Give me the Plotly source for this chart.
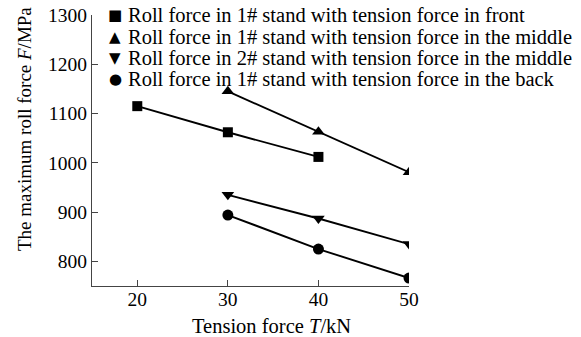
import plotly.graph_objects as go

# Tension force (kN) and maximum roll force (MPa) for each rolling case
tension_front = [20, 30, 40]
force_front = [1115, 1062, 1012]

tension_mid1 = [30, 40, 50]
force_mid1 = [1145, 1063, 981]

tension_mid2 = [30, 40, 50]
force_mid2 = [935, 887, 835]

tension_back = [30, 40, 50]
force_back = [894, 825, 766]

x_ticks = [20, 30, 40, 50]
y_ticks = [800, 900, 1000, 1100, 1200, 1300]

series = [
    ("Roll force in 1# stand with tension force in front", tension_front, force_front, "square", 10, "■"),
    ("Roll force in 1# stand with tension force in the middle", tension_mid1, force_mid1, "triangle-up", 11, "▲"),
    ("Roll force in 2# stand with tension force in the middle", tension_mid2, force_mid2, "triangle-down", 11, "▼"),
    ("Roll force in 1# stand with tension force in the back", tension_back, force_back, "circle", 11, "●"),
]

SERIF = "Liberation Serif, Times New Roman, serif"
GLYPH = "DejaVu Sans, sans-serif"

# plot area in pixels
L, T, W, H = 92, 15, 317, 271

fig = go.Figure()
for name, xs, ys, sym, size, _ in series:
    fig.add_trace(go.Scatter(
        x=xs, y=ys, name=name, mode="lines+markers", showlegend=False,
        line=dict(color="black", width=1.9),
        marker=dict(symbol=sym, size=size, color="black"),
    ))

annotations = []
# key: symbol glyph + description, one row per series
row_y = [15, 37, 58, 79]
for (name, _, _, _, _, glyph), py in zip(series, row_y):
    annotations.append(dict(
        xref="paper", yref="paper", x=0, y=1, xanchor="center", yanchor="middle",
        xshift=115 - L, yshift=T - py, text=glyph, showarrow=False,
        font=dict(family=GLYPH, size=15, color="black"),
    ))
    annotations.append(dict(
        xref="paper", yref="paper", x=0, y=1, xanchor="left", yanchor="middle",
        xshift=126 - L, yshift=T - py, text=name, showarrow=False,
        font=dict(family=SERIF, size=20.5, color="black"),
    ))

# axis titles
annotations.append(dict(
    xref="paper", yref="paper", x=0, y=0, xanchor="center", yanchor="middle",
    xshift=271 - L, yshift=-(326 - (T + H)), text="Tension force <i>T</i>/kN",
    showarrow=False, font=dict(family=SERIF, size=20.5, color="black"),
))
annotations.append(dict(
    xref="paper", yref="paper", x=0, y=1, xanchor="center", yanchor="middle",
    xshift=24 - L, yshift=T - 129, textangle=-90,
    text="The maximum roll force <i>F</i>/MPa",
    showarrow=False, font=dict(family=SERIF, size=19, color="black"),
))

fig.update_layout(
    width=581, height=337,
    margin=dict(l=L, r=581 - L - W, t=T, b=337 - T - H, autoexpand=False),
    paper_bgcolor="white", plot_bgcolor="white",
    font=dict(family=SERIF, size=19.5, color="black"),
    showlegend=False,
    annotations=annotations,
    xaxis=dict(
        range=[15, 50], tickvals=x_ticks, automargin=False,
        showgrid=False, zeroline=False,
        showline=True, linecolor="#444", linewidth=1.3,
        ticks="inside", ticklen=6, tickcolor="#444", tickwidth=1.3,
        ticklabelstandoff=-5,
        tickfont=dict(size=19.5, family=SERIF, color="black"),
    ),
    yaxis=dict(
        range=[750, 1300], tickvals=y_ticks, automargin=False,
        showgrid=False, zeroline=False,
        showline=True, linecolor="#444", linewidth=1.3,
        ticks="inside", ticklen=6, tickcolor="#444", tickwidth=1.3,
        tickfont=dict(size=19.5, family=SERIF, color="black"),
    ),
)

fig.write_html("out.html")
